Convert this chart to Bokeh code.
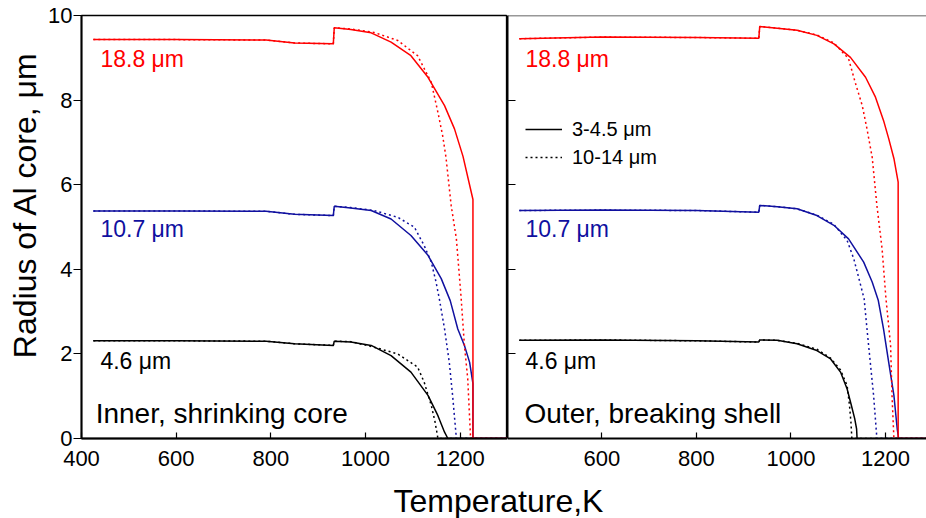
from math import pi
from bokeh.plotting import figure
from bokeh.layouts import row, column
from bokeh.models import Label, Legend, LegendItem, FixedTicker, Span, Range1d
from bokeh.embed import file_html
from bokeh.resources import INLINE

FONT = "Liberation Sans"
RED = "#ff0000"
BLUE = "#10109f"
BLACK = "#000000"

# ---------------- data: left panel (Inner, shrinking core) ----------------
T_L_red_solid = [425, 600, 790, 850, 932, 934, 969, 1012, 1054, 1096, 1132, 1167, 1188, 1206, 1227, 1227, 1300]
R_L_red_solid = [9.43, 9.43, 9.42, 9.35, 9.33, 9.71, 9.67, 9.59, 9.37, 9.05, 8.54, 7.87, 7.32, 6.67, 5.65, 0, 0]
T_L_red_dot = [425, 600, 790, 850, 932, 934, 969, 1018, 1068, 1110, 1128, 1139, 1153, 1163, 1170, 1181, 1192, 1202, 1209, 1216, 1222, 1300]
R_L_red_dot = [9.43, 9.43, 9.42, 9.35, 9.33, 9.71, 9.68, 9.6, 9.41, 9.05, 8.66, 8.42, 7.71, 7.16, 6.65, 5.51, 4.72, 3.33, 2.2, 1.41, 0, 0]
T_L_blue_solid = [425, 600, 790, 850, 932, 934, 969, 1012, 1054, 1096, 1132, 1160, 1179, 1195, 1209, 1220, 1227, 1227, 1300]
R_L_blue_solid = [5.38, 5.38, 5.37, 5.3, 5.27, 5.49, 5.45, 5.39, 5.19, 4.8, 4.33, 3.78, 3.26, 2.59, 2.2, 1.8, 1.3, 0, 0]
T_L_blue_dot = [425, 600, 790, 850, 932, 934, 969, 1018, 1068, 1103, 1124, 1139, 1149, 1156, 1167, 1177, 1184, 1192, 1300]
R_L_blue_dot = [5.38, 5.38, 5.37, 5.3, 5.27, 5.49, 5.46, 5.39, 5.23, 5.0, 4.56, 4.17, 3.7, 3.3, 2.59, 1.8, 1.02, 0, 0]
T_L_black_solid = [425, 600, 790, 850, 932, 934, 969, 1012, 1054, 1096, 1132, 1153, 1167, 1174, 1300]
R_L_black_solid = [2.31, 2.31, 2.3, 2.24, 2.2, 2.3, 2.28, 2.2, 1.96, 1.57, 1.02, 0.54, 0.15, 0, 0]
T_L_black_dot = [425, 600, 790, 850, 932, 934, 969, 1018, 1068, 1110, 1124, 1139, 1147, 1153, 1300]
R_L_black_dot = [2.31, 2.31, 2.3, 2.24, 2.2, 2.3, 2.29, 2.16, 2.0, 1.69, 1.33, 0.78, 0.39, 0, 0]

# ---------------- data: right panel (Outer, breaking shell) ----------------
T_R_red_solid = [425, 600, 800, 932, 934, 971, 1013, 1055, 1091, 1126, 1158, 1179, 1196, 1207, 1218, 1227, 1227, 1300]
R_R_red_solid = [9.45, 9.49, 9.48, 9.46, 9.74, 9.7, 9.65, 9.53, 9.33, 9.01, 8.54, 8.07, 7.52, 7.09, 6.62, 6.06, 0, 0]
T_R_red_dot = [425, 600, 800, 932, 934, 971, 1013, 1055, 1091, 1122, 1136, 1151, 1161, 1172, 1182, 1193, 1201, 1211, 1214, 1218, 1300]
R_R_red_dot = [9.45, 9.49, 9.48, 9.46, 9.74, 9.7, 9.65, 9.54, 9.35, 8.98, 8.42, 7.87, 7.32, 6.65, 5.51, 4.48, 3.33, 2.2, 1.02, 0, 0]
T_R_blue_solid = [425, 600, 800, 932, 934, 971, 1013, 1055, 1091, 1122, 1154, 1172, 1185, 1196, 1207, 1218, 1225, 1228, 1300]
R_R_blue_solid = [5.39, 5.4, 5.39, 5.35, 5.51, 5.48, 5.43, 5.27, 5.04, 4.72, 4.17, 3.7, 3.26, 2.59, 1.8, 1.02, 0.23, 0, 0]
T_R_blue_dot = [425, 600, 800, 932, 934, 971, 1013, 1055, 1091, 1119, 1133, 1144, 1155, 1161, 1168, 1175, 1182, 1300]
R_R_blue_dot = [5.39, 5.4, 5.39, 5.35, 5.51, 5.48, 5.43, 5.28, 5.06, 4.68, 4.25, 3.78, 3.3, 2.59, 1.8, 1.02, 0, 0]
T_R_black_solid = [425, 600, 800, 932, 934, 971, 1013, 1055, 1084, 1105, 1119, 1128, 1135, 1139, 1140, 1300]
R_R_black_solid = [2.32, 2.33, 2.31, 2.28, 2.33, 2.32, 2.24, 2.08, 1.88, 1.57, 1.17, 0.78, 0.47, 0.23, 0, 0]
T_R_black_dot = [425, 600, 800, 932, 934, 971, 1013, 1055, 1084, 1105, 1119, 1124, 1127, 1129, 1300]
R_R_black_dot = [2.32, 2.33, 2.31, 2.28, 2.33, 2.32, 2.25, 2.11, 1.9, 1.62, 1.25, 0.78, 0.39, 0, 0]

size_labels = ["18.8 μm", "10.7 μm", "4.6 μm"]
size_colors = [RED, BLUE, BLACK]
legend_labels = ["3-4.5 μm", "10-14 μm"]
x_ticks_left = [400, 600, 800, 1000, 1200]
x_ticks_right = [600, 800, 1000, 1200]
y_ticks = [0, 2, 4, 6, 8, 10]
y_inner_ticks = [2, 4, 6, 8]

LW = 1.5
DASH = "2 3"


def bare(w, h, xr, yr):
    f = figure(width=w, height=h, x_range=Range1d(*xr), y_range=Range1d(*yr),
               output_backend="svg", toolbar_location=None,
               x_axis_location=None, y_axis_location=None,
               min_border_left=0, min_border_right=0, min_border_top=0, min_border_bottom=0)
    f.grid.visible = False
    f.outline_line_color = None
    f.background_fill_color = None
    f.border_fill_color = None
    return f


def style_axes(p):
    for ax in p.axis:
        ax.major_label_text_font = FONT
        ax.major_label_text_font_size = "22px"
        ax.major_label_text_color = BLACK
        ax.axis_line_color = BLACK
        ax.axis_line_width = 2
        ax.major_tick_line_color = BLACK
        ax.major_tick_line_width = 1.2
        ax.minor_tick_line_color = None


# ---------------- left panel ----------------
p1 = figure(width=463, height=478, x_range=Range1d(400, 1300), y_range=Range1d(0, 10),
            output_backend="svg", toolbar_location=None,
            min_border_left=37, min_border_right=0, min_border_top=15, min_border_bottom=40)
p1.grid.visible = False
p1.outline_line_color = BLACK
p1.outline_line_width = 1.3
p1.xaxis.ticker = FixedTicker(ticks=x_ticks_left)
p1.yaxis.ticker = FixedTicker(ticks=y_ticks)
style_axes(p1)
p1.xaxis.major_tick_in = 6
p1.xaxis.major_tick_out = 0
p1.xaxis.major_label_standoff = 12
p1.yaxis.major_tick_in = 0
p1.yaxis.major_tick_out = 8
p1.yaxis.major_label_standoff = 1

p1.line(T_L_black_dot, R_L_black_dot, color=BLACK, line_width=LW, line_dash=DASH)
p1.line(T_L_black_solid, R_L_black_solid, color=BLACK, line_width=LW)
p1.line(T_L_blue_dot, R_L_blue_dot, color=BLUE, line_width=LW, line_dash=DASH)
p1.line(T_L_blue_solid, R_L_blue_solid, color=BLUE, line_width=LW)
p1.line(T_L_red_dot, R_L_red_dot, color=RED, line_width=LW, line_dash=DASH)
p1.line(T_L_red_solid, R_L_red_solid, color=RED, line_width=LW)

# ---------------- right panel ----------------
p2 = figure(width=419, height=478, x_range=Range1d(400, 1287), y_range=Range1d(0, 10),
            output_backend="svg", toolbar_location=None,
            min_border_left=0, min_border_right=0, min_border_top=15, min_border_bottom=40)
p2.grid.visible = False
p2.outline_line_color = None
p2.xaxis.ticker = FixedTicker(ticks=x_ticks_right)
style_axes(p2)
p2.xaxis.major_tick_in = 6
p2.xaxis.major_tick_out = 0
p2.xaxis.major_label_standoff = 12
# separator axis: unlabeled inward ticks only (drawn as minor ticks)
p2.yaxis.ticker = FixedTicker(ticks=[], minor_ticks=y_inner_ticks)
p2.yaxis.minor_tick_line_color = BLACK
p2.yaxis.minor_tick_line_width = 1.2
p2.yaxis.minor_tick_in = 8
p2.yaxis.minor_tick_out = 0
p2.yaxis.major_tick_in = 0
p2.yaxis.major_tick_out = 0
p2.yaxis.major_label_standoff = 0
p2.add_layout(Span(location=10, dimension="width", line_color="#333333", line_width=1.5))

rb_dot = p2.line(T_R_black_dot, R_R_black_dot, color=BLACK, line_width=LW, line_dash=DASH)
rb_solid = p2.line(T_R_black_solid, R_R_black_solid, color=BLACK, line_width=LW)
p2.line(T_R_blue_dot, R_R_blue_dot, color=BLUE, line_width=LW, line_dash=DASH)
p2.line(T_R_blue_solid, R_R_blue_solid, color=BLUE, line_width=LW)
p2.line(T_R_red_dot, R_R_red_dot, color=RED, line_width=LW, line_dash=DASH)
p2.line(T_R_red_solid, R_R_red_solid, color=RED, line_width=LW)

legend = Legend(items=[LegendItem(label=legend_labels[0], renderers=[rb_solid]),
                       LegendItem(label=legend_labels[1], renderers=[rb_dot])],
                location=(18, 267), orientation="vertical",
                background_fill_alpha=0, border_line_color=None,
                padding=0, margin=0, spacing=0,
                glyph_width=37, glyph_height=28, label_height=28, label_standoff=10,
                label_text_font=FONT, label_text_font_size="20px", label_text_color=BLACK)
p2.add_layout(legend)

# ---------------- annotations ----------------
label_y = [8.97, 4.95, 1.84]
for p, lx in ((p1, 440), (p2, 438)):
    for txt, col, ly in zip(size_labels, size_colors, label_y):
        p.add_layout(Label(x=lx, y=ly, text=txt, text_color=col, text_font=FONT,
                           text_font_size="23px", text_baseline="middle"))
p1.add_layout(Label(x=430, y=0.59, text="Inner, shrinking core", text_color=BLACK,
                    text_font=FONT, text_font_size="28px", text_baseline="middle"))
p2.add_layout(Label(x=436, y=0.59, text="Outer, breaking shell", text_color=BLACK,
                    text_font=FONT, text_font_size="28px", text_baseline="middle"))

# axis titles in their own strips
p0 = bare(44, 478, (0, 44), (0, 478))
p0.add_layout(Label(x=24, y=264, text="Radius of Al core, μm", angle=pi / 2,
                    text_align="center", text_baseline="middle",
                    text_font=FONT, text_font_size="32px", text_color=BLACK))
p3 = bare(926, 40, (0, 926), (0, 40))
p3.add_layout(Label(x=498, y=17.5, text="Temperature,K", text_align="center",
                    text_baseline="middle", text_font=FONT, text_font_size="32px",
                    text_color=BLACK))

layout = column(row(p0, p1, p2, spacing=0), p3, spacing=0)

with open("out.html", "w") as f:
    f.write(file_html(layout, INLINE))
